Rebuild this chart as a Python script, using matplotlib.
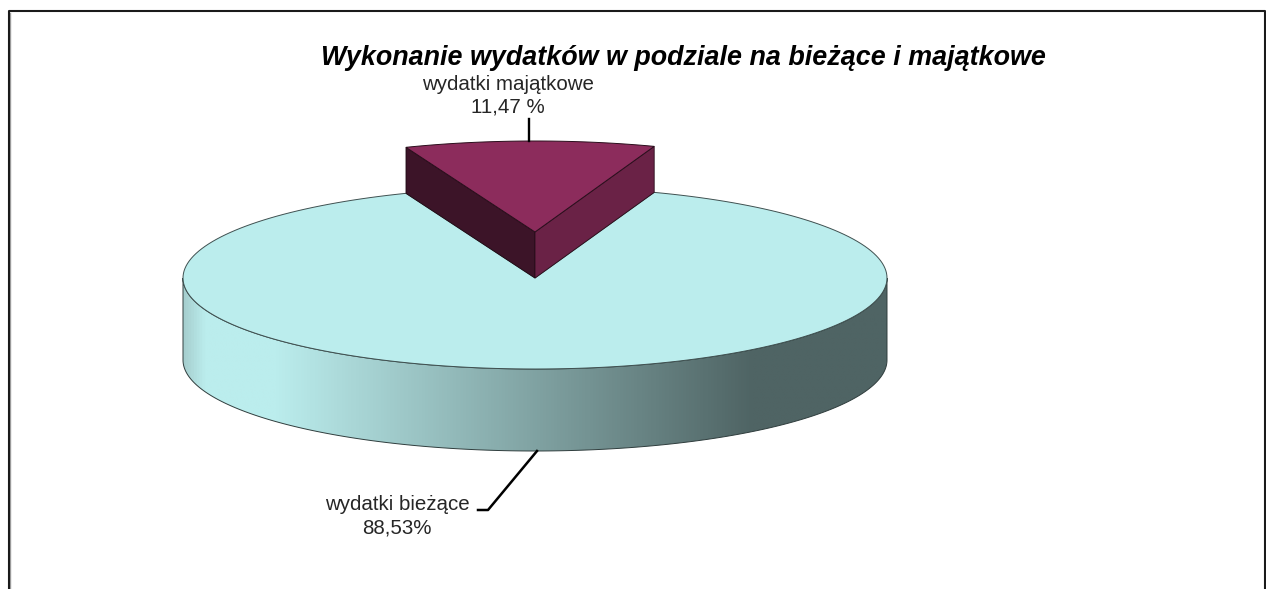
import numpy as np
import matplotlib
matplotlib.use('Agg')
from matplotlib import pyplot as plt
from matplotlib.colors import LinearSegmentedColormap
from matplotlib.patches import Polygon

plt.rcParams['font.family'] = ['Liberation Sans', 'DejaVu Sans']

title = 'Wykonanie wydatków w podziale na bieżące i majątkowe'
shares = [88.53, 11.47]
labels = ['wydatki bieżące\n88,53%', 'wydatki majątkowe\n11,47 %']

cx, cy = 535, 278
rx, ry = 352, 91
depth = 82
lift = 46
first_angle = -21.5

colours = ['#bbeded', '#8c2c5c', '#3c1428', '#6a2246']
wall_stops = [(0.0, '#a6cfcf'), (0.03, '#bbeded'), (0.13, '#bbeded'),
              (0.81, '#4f6464'), (1.0, '#4f6464')]


def rim(start, stop, dy=0, n=200):
    # angles run clockwise from the top of the ellipse
    t = np.radians(np.linspace(start, stop, n))
    return np.column_stack([cx + rx * np.sin(t), cy - ry * np.cos(t) + dy])


fig = plt.figure(figsize=(12.66, 5.89), dpi=100)
ax = fig.add_axes([0, 0, 1, 1])
ax.set_xlim(0, 1266)
ax.set_ylim(589, 0)
ax.axis('off')

# frame, cut off at the bottom of the picture
ax.plot([9.5, 9.5], [13, 589], color='#a0a0a0', lw=1)
ax.plot([8.5, 8.5, 1265, 1265], [589, 11, 11, 589], color='#1a1a1a', lw=1.5)

small_span = shares[1] / sum(shares) * 360
small_stop = first_angle + small_span

# outer wall with its gradient
front = rim(90, 270)
wall = Polygon(np.vstack([front, rim(270, 90, dy=depth)]), closed=True, transform=ax.transData)
cmap = LinearSegmentedColormap.from_list('wall', wall_stops)
img = ax.imshow(np.linspace(0, 1, 512)[None, :], cmap=cmap, aspect='auto',
                extent=[cx - rx, cx + rx, cy + ry + depth, cy - ry], zorder=2)
img.set_clip_path(wall)
ax.set_xlim(0, 1266)
ax.set_ylim(589, 0)
ax.add_patch(Polygon(np.vstack([front, rim(270, 90, dy=depth)]), closed=True, fill=False,
                     edgecolor='#2f3d3d', lw=0.7, zorder=3))

# big slice, top face
big = np.vstack([[cx, cy], rim(small_stop, first_angle + 360)])
ax.add_patch(Polygon(big, closed=True, facecolor=colours[0], edgecolor='#3f5050', lw=0.7, zorder=4))

# small slice, pulled upwards
left_top = rim(first_angle, first_angle, dy=-lift, n=1)[0]
right_top = rim(small_stop, small_stop, dy=-lift, n=1)[0]
apex = np.array([cx, cy - lift])
ax.add_patch(Polygon([left_top, apex, apex + [0, lift], left_top + [0, lift]], closed=True,
                     facecolor=colours[2], edgecolor='#1e0a14', lw=0.6, zorder=5))
ax.add_patch(Polygon([right_top, apex, apex + [0, lift], right_top + [0, lift]], closed=True,
                     facecolor=colours[3], edgecolor='#2a0e1c', lw=0.6, zorder=5))
top = np.vstack([apex, rim(first_angle, small_stop, dy=-lift)])
ax.add_patch(Polygon(top, closed=True, facecolor=colours[1], edgecolor='#2a0e1c', lw=0.7, zorder=6))

# leader lines
ax.plot([529, 529], [119, 141], color='black', lw=1.7, zorder=7)
ax.plot([537, 488, 478], [451, 510, 510], color='black', lw=1.8, zorder=3)

ax.text(683, 58, title, fontsize=19.4, fontweight='bold', fontstyle='italic',
        ha='center', va='center', color='black')
ax.text(508, 96, labels[1], fontsize=14.8, ha='center', va='center', color='#262626', linespacing=1.25)
ax.text(397, 516, labels[0], fontsize=14.8, ha='center', va='center', color='#262626', linespacing=1.3)

fig.savefig('out.png', dpi=100)
